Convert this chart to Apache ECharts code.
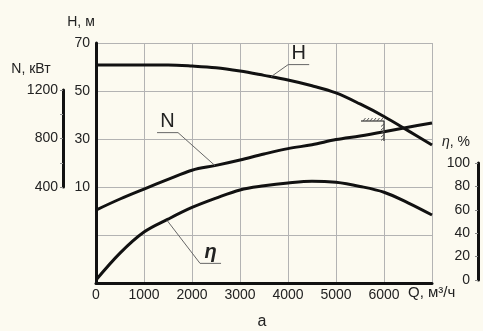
<!DOCTYPE html>
<html>
<head>
<meta charset="utf-8">
<script src="https://cdn.jsdelivr.net/npm/echarts@6/dist/echarts.min.js"></script>
<style>
html,body{margin:0;padding:0;background:#fcfaf0;}
#c{width:483px;height:331px;}
</style>
</head>
<body>
<div id="c"></div>
<script>
// ---- data ----
const Q   = [0, 500, 1000, 1500, 2000, 2500, 3000, 3500, 4000, 4500, 5000, 5500, 6000, 6500, 7000];
const H   = [60.8, 60.8, 60.8, 60.8, 60.4, 59.7, 58.3, 56.5, 54.6, 52.2, 49.2, 44.6, 39.4, 33.5, 27.5];
const N   = [208, 300, 383, 463, 540, 580, 625, 675, 720, 752, 795, 825, 860, 898, 933];
const ETA = [0, 23, 41, 52, 62, 70, 77, 80.5, 83, 84.5, 83.5, 80, 75, 66, 55.6];

const xTickLabels = ['0', '1000', '2000', '3000', '4000', '5000', '6000'];
const hTickLabels = ['10', '30', '50', '70'];
const nTickLabels = ['400', '800', '1200'];
const etaTickLabels = ['0', '20', '40', '60', '80', '100'];

// annotation anchors (data coordinates)
const anchorH = [3650, 56];
const anchorN = [2480, 578];
const anchorEta = [1480, 51];
const operatingPoint = [6000, 37.5];

const FONT = 'Liberation Sans, Arial, sans-serif';
const TXT = '#222';
const BLACK = '#111';
const GRID = '#b3b3b3';

const chart = echarts.init(document.getElementById('c'), null, {renderer: 'canvas'});

function pairs(ys) { return Q.map((q, i) => [q, ys[i]]); }

const option = {
  backgroundColor: '#fcfaf0',
  animation: false,
  textStyle: {fontFamily: FONT},
  grid: [
    {left: 96, top: 43, right: 51, bottom: 48},
    {left: 63, top: 90, width: 1, height: 97},
    {left: 478, top: 163, width: 1, height: 117}
  ],
  xAxis: [
    {
      gridIndex: 0, type: 'value', min: 0, max: 7000, interval: 1000,
      axisLine: {show: true, onZero: false, lineStyle: {color: BLACK, width: 3}},
      axisTick: {show: false},
      splitLine: {show: true, lineStyle: {color: GRID, width: 1}},
      axisLabel: {
        color: TXT, fontSize: 14, fontFamily: FONT, margin: 5,
        formatter: function (v) { const i = Math.round(v / 1000); return i < xTickLabels.length ? xTickLabels[i] : ''; }
      }
    },
    {gridIndex: 1, type: 'value', min: 0, max: 1, show: false},
    {gridIndex: 2, type: 'value', min: 0, max: 1, show: false}
  ],
  yAxis: [
    {
      gridIndex: 0, type: 'value', min: -30, max: 70, interval: 20,
      axisLine: {show: true, onZero: false, lineStyle: {color: BLACK, width: 3}},
      axisTick: {show: false},
      splitLine: {show: true, lineStyle: {color: GRID, width: 1}},
      axisLabel: {
        color: TXT, fontSize: 14, fontFamily: FONT, margin: 6,
        formatter: function (v) { const s = String(v); return hTickLabels.indexOf(s) >= 0 ? s : ''; }
      }
    },
    {gridIndex: 0, type: 'value', min: -400, max: 1600, show: false},
    {gridIndex: 0, type: 'value', min: -2.5, max: 202.5, show: false},
    {
      gridIndex: 1, type: 'value', min: 400, max: 1200, interval: 400, position: 'left',
      axisLine: {show: true, lineStyle: {color: BLACK, width: 3}},
      axisTick: {show: true, length: 3, lineStyle: {color: '#888', width: 1}},
      minorTick: {show: true, splitNumber: 2, length: 3, lineStyle: {color: '#999', width: 1}},
      splitLine: {show: false},
      axisLabel: {
        color: TXT, fontSize: 14, fontFamily: FONT, margin: 5,
        formatter: function (v) { const s = String(v); return nTickLabels.indexOf(s) >= 0 ? s : ''; }
      }
    },
    {
      gridIndex: 2, type: 'value', min: 0, max: 100, interval: 20, position: 'left',
      axisLine: {show: true, lineStyle: {color: BLACK, width: 3}},
      axisTick: {show: true, length: 3, lineStyle: {color: '#888', width: 1}},
      splitLine: {show: false},
      axisLabel: {
        color: TXT, fontSize: 14, fontFamily: FONT, margin: 8,
        formatter: function (v) { const s = String(v); return etaTickLabels.indexOf(s) >= 0 ? s : ''; }
      }
    }
  ],
  series: [
    {type: 'line', name: 'H', xAxisIndex: 0, yAxisIndex: 0, data: pairs(H), smooth: 0.35,
     symbol: 'none', lineStyle: {color: BLACK, width: 3}},
    {type: 'line', name: 'N', xAxisIndex: 0, yAxisIndex: 1, data: pairs(N), smooth: 0.35,
     symbol: 'none', lineStyle: {color: BLACK, width: 3}},
    {type: 'line', name: 'η', xAxisIndex: 0, yAxisIndex: 2, data: pairs(ETA), smooth: 0.35,
     symbol: 'none', lineStyle: {color: BLACK, width: 3}}
  ]
};
chart.setOption(option);

// ---- annotations ----
function px(yAxisIndex, pt) { return chart.convertToPixel({xAxisIndex: 0, yAxisIndex: yAxisIndex}, pt); }
const LEAD = {stroke: '#666', lineWidth: 1};
const g = [];

function label(anchor, dx, dy, ulDir, text, italic) {
  const a = anchor;
  const e = [a[0] + dx, a[1] + dy];
  const ulEnd = [e[0] + ulDir * 21, e[1]];
  g.push({type: 'line', shape: {x1: a[0], y1: a[1], x2: e[0], y2: e[1]}, style: LEAD, z: 10});
  g.push({type: 'line', shape: {x1: e[0], y1: e[1], x2: ulEnd[0], y2: ulEnd[1]}, style: LEAD, z: 10});
  g.push({type: 'text', x: (e[0] + ulEnd[0]) / 2, y: e[1] - 1, z: 10,
    style: {text: text, fill: '#222', font: (italic ? 'italic bold ' : '') + '20px ' + FONT,
      textAlign: 'center', textVerticalAlign: 'bottom'}});
}
label(px(0, anchorH), 17, -12, 1, 'H', false);
label(px(1, anchorN), -37, -33, -1, 'N', false);
label(px(2, anchorEta), 33, 43, 1, 'η', true);

// operating point hatch
const op = px(0, operatingPoint);
const hx0 = op[0] - 23, hy = op[1];
g.push({type: 'line', shape: {x1: hx0, y1: hy, x2: op[0], y2: hy}, style: {stroke: '#333', lineWidth: 1.2}, z: 10});
g.push({type: 'line', shape: {x1: op[0], y1: hy, x2: op[0], y2: hy + 20}, style: {stroke: '#333', lineWidth: 1.2}, z: 10});
for (let x = hx0 + 2; x <= op[0] - 1; x += 3.5) {
  g.push({type: 'line', shape: {x1: x, y1: hy, x2: x + 2.5, y2: hy - 3}, style: {stroke: '#555', lineWidth: 1}, z: 10});
}
for (let y = hy + 3; y <= hy + 19; y += 3.5) {
  g.push({type: 'line', shape: {x1: op[0], y1: y, x2: op[0] - 3, y2: y + 2.5}, style: {stroke: '#555', lineWidth: 1}, z: 10});
}

// titles
const tf = '14px ' + FONT;
g.push({type: 'text', x: 81, y: 22, style: {text: 'H, м', fill: TXT, font: tf, textAlign: 'center', textVerticalAlign: 'middle'}});
g.push({type: 'text', x: 31, y: 69, style: {text: 'N, кВт', fill: TXT, font: tf, textAlign: 'center', textVerticalAlign: 'middle'}});
g.push({type: 'text', x: 442, y: 142, style: {text: '{i|η}, %', fill: TXT, font: tf, textAlign: 'left', textVerticalAlign: 'middle',
  rich: {i: {fontStyle: 'italic', fontSize: 14, fontFamily: FONT, fill: TXT}}}});
g.push({type: 'text', x: 408, y: 293, style: {text: 'Q, м³/ч', fill: TXT, font: '15px ' + FONT, textAlign: 'left', textVerticalAlign: 'middle'}});
g.push({type: 'text', x: 262, y: 322, style: {text: 'а', fill: TXT, font: '16px ' + FONT, textAlign: 'center', textVerticalAlign: 'middle'}});

chart.setOption({graphic: g});
</script>
</body>
</html>
